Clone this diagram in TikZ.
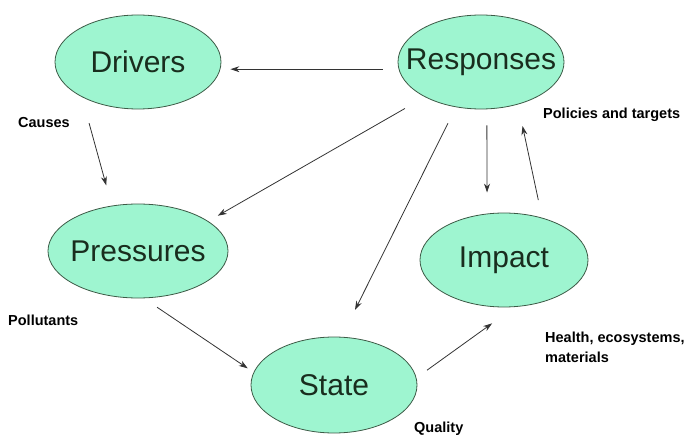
\documentclass[tikz,border=0pt]{standalone}
\usepackage{fontspec}
\setmainfont{Liberation Sans}
\usetikzlibrary{arrows.meta,shapes.geometric}
\definecolor{mint}{RGB}{158,245,208}
\definecolor{rim}{RGB}{60,90,70}
\definecolor{ink}{RGB}{25,45,30}

\begin{document}
\begin{tikzpicture}[
  x=1pt,
  y=-1pt,
  stage/.style={
    ellipse,
    draw=rim,
    fill=mint,
    line width=0.8pt,
    minimum width=166pt,
    minimum height=94pt,
    inner xsep=-60pt,
    inner ysep=0pt,
    text=ink,
    font=\fontsize{30}{36}\selectfont},
  note/.style={
    anchor=west,
    align=left,
    inner sep=0pt,
    font=\bfseries\fontsize{14.5}{20}\selectfont},
  flow/.style={-{Stealth[length=9pt,width=6pt]}, line width=0.8pt, draw=black!80}]

  \useasboundingbox (0,0) rectangle (687,435);

  \node[stage] (drivers) at (138,62) {Drivers};
  \node[stage] (resp) at (481,62) {Responses};
  \node[stage, minimum width=180pt] (press) at (138,251) {Pressures};
  \node[stage, minimum width=168pt] (impact) at (504,260) {Impact};
  \node[stage, minimum height=96pt] (state) at (334,385) {State};

  \node[note] (causes) at (18,123) {Causes};
  \node[note] (policies) at (543,115) {Policies and targets};
  \node[note] (pollut) at (8,320) {Pollutants};
  \node[note] (health) at (545,347) {Health, ecosystems,\\materials};
  \node[note, anchor=base west] (quality) at (414,432) {Quality};

  \draw[flow, shorten <=16pt, shorten >=10pt] (resp.185) -- (drivers.355);
  \draw[flow, shorten <=27pt, shorten >=21pt] (drivers.212) -- (press.120);
  \draw[flow, shorten <=23pt, shorten >=11pt] (resp.212) -- (press.23);
  \draw[flow, shorten <=18pt, shorten >=30pt] (resp.241) -- (state.81);
  \draw[flow, shorten <=16pt, shorten >=21pt] (resp.277) -- (impact.110);
  \draw[flow, shorten <=18pt, shorten >=22pt] (impact.48) -- (resp.311);
  \draw[flow, shorten <=16pt, shorten >=7pt] (press.277) -- (state.171);
  \draw[flow, shorten <=13pt, shorten >=28pt] (state.5) -- (impact.283);
\end{tikzpicture}
\end{document}
